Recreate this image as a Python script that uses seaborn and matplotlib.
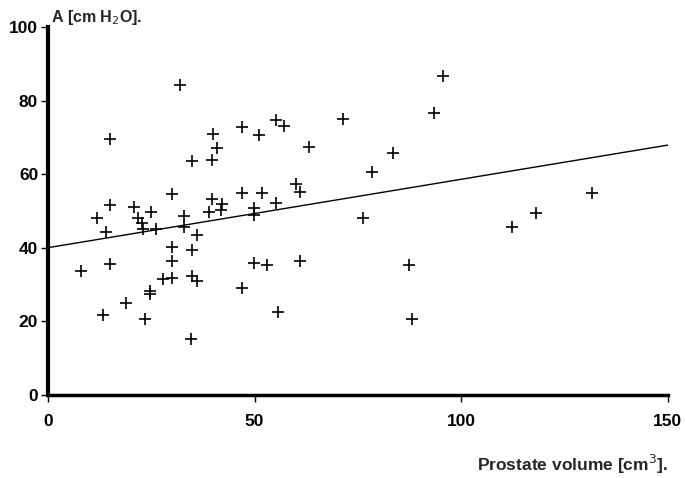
import matplotlib
matplotlib.use("Agg")
import matplotlib.pyplot as plt
import numpy as np
import pandas as pd
import seaborn as sns

# Data
volume = [8.0, 11.9, 13.3, 14.0, 14.9, 15.0, 15.0, 18.9, 20.9, 21.9, 22.7,
          23.1, 23.5, 24.8, 24.8, 25.0, 26.1, 27.9, 30.0, 30.0, 30.0, 30.1, 31.9,
          32.9, 32.9, 34.6, 34.9, 34.9, 34.9, 36.0, 36.0, 38.9, 39.8, 39.8, 40.0,
          41.0, 41.9, 42.0, 46.9, 46.9, 47.0, 49.9, 49.9, 49.9, 51.1, 51.9, 52.9,
          55.2, 55.2, 55.7, 57.2, 60.0, 61.1, 61.1, 63.2, 71.5, 76.3, 78.4, 83.5,
          87.3, 88.0, 93.5, 95.7, 112.2, 118.0, 131.7]
pressure = [33.6, 48.2, 21.7, 44.4, 35.7, 51.5, 69.5, 25.1, 51.2, 48.0, 46.8,
            45.0, 20.6, 28.3, 27.4, 49.8, 45.0, 31.5, 54.6, 40.1, 36.4, 31.7, 84.1,
            48.6, 45.5, 15.3, 63.7, 39.4, 32.2, 43.5, 31.0, 49.8, 63.9, 53.3, 70.9,
            67.2, 50.3, 51.8, 54.8, 29.0, 72.9, 50.7, 48.9, 35.9, 70.7, 55.0, 35.3,
            74.7, 52.1, 22.6, 73.2, 57.3, 55.1, 36.5, 67.5, 75.1, 48.0, 60.6, 65.8,
            35.3, 20.7, 76.7, 86.8, 45.5, 49.4, 54.8]

# Regression line as printed
fit_intercept = 40.0
fit_slope = 0.186

x_ticks = [0, 50, 100, 150]
y_ticks = [0, 20, 40, 60, 80, 100]

df = pd.DataFrame({'volume': volume, 'pressure': pressure})

sns.set_style('white')
plt.rcParams['font.family'] = ['Liberation Sans', 'DejaVu Sans']

fig = plt.figure(figsize=(6.85, 4.78), dpi=100)
ax = fig.add_axes([0.070, 0.174, 0.905, 0.7695])

sns.scatterplot(data=df, x='volume', y='pressure', marker='+', s=80,
                color='black', linewidth=1.2, ax=ax, zorder=3)

line_x = np.array([0, 150])
sns.lineplot(x=line_x, y=fit_intercept + fit_slope * line_x,
             color='black', linewidth=1.0, ax=ax)

ax.set_xlim(0, 150)
ax.set_ylim(0, 100)
ax.set_xticks(x_ticks)
ax.set_yticks(y_ticks)
ax.set_xlabel('')
ax.set_ylabel('')

for side in ['top', 'right']:
    ax.spines[side].set_visible(False)
ax.spines['left'].set_linewidth(3.0)
ax.spines['bottom'].set_linewidth(2.5)
ax.spines['left'].set_color('black')
ax.spines['bottom'].set_color('black')

ax.tick_params(axis='both', direction='out', length=5, width=1.0,
               colors='black', labelsize=12.5)
ax.tick_params(axis='x', pad=9, bottom=True)
ax.tick_params(axis='y', pad=2, left=True)
for lbl in ax.get_xticklabels() + ax.get_yticklabels():
    lbl.set_fontweight('bold')

ax.text(0.005, 1.0, 'A [cm H$_2$O].', transform=ax.transAxes,
        fontsize=11.5, fontweight='bold', ha='left', va='bottom')
fig.text(0.975, 0.004, 'Prostate volume [cm$^3$].', fontsize=12.5,
         fontweight='bold', ha='right', va='bottom')

fig.savefig('out.png', dpi=100)
